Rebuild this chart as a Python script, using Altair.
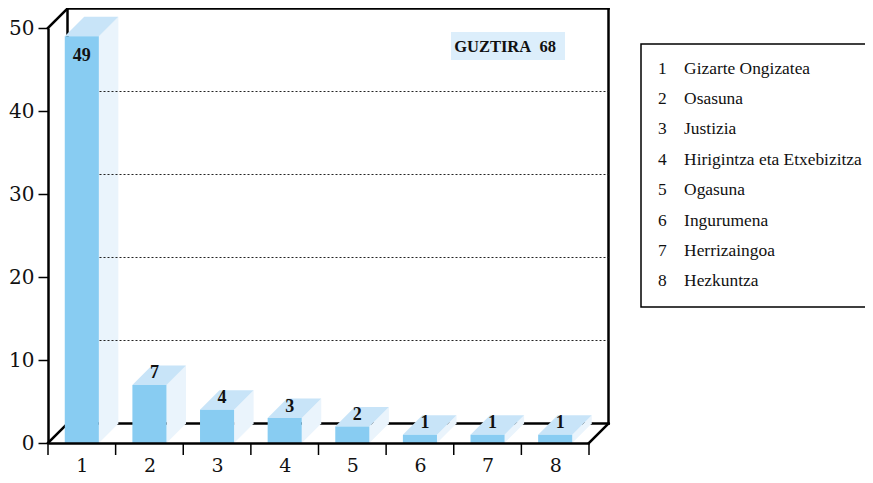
import altair as alt
import pandas as pd

# ---- data -------------------------------------------------------------
categories = [1, 2, 3, 4, 5, 6, 7, 8]
names = ["Gizarte Ongizatea", "Osasuna", "Justizia", "Hirigintza eta Etxebizitza",
         "Ogasuna", "Ingurumena", "Herrizaingoa", "Hezkuntza"]
values = [49, 7, 4, 3, 2, 1, 1, 1]
y_ticks = [0, 10, 20, 30, 40, 50]
grid_levels = [10, 20, 30, 40]
total_word = "GUZTIRA"

# ---- geometry / style ---------------------------------------------------
W, H = 541, 415
X0, X1 = 0.5, 8.5
Y0, Y1 = 0, 50
DEPTH = 19.5                      # pseudo-3D depth in px
dx = DEPTH / (W / (X1 - X0))
dy = DEPTH / (H / (Y1 - Y0))
HALF = 0.252

FRONT = "#88CCF2"
TOP = "#C8E4F8"
SIDE = "#EAF4FC"
SERIF = "Liberation Serif"

legend_lines = [f"{c}\u2003{n}" for c, n in zip(categories, names)]

frame = pd.DataFrame([
    dict(x=X0 + dx, y=Y0 + dy, x2=X0 + dx, y2=Y1 + dy),
    dict(x=X1 + dx, y=Y0 + dy, x2=X1 + dx, y2=Y1 + dy),
    dict(x=X0 + dx, y=Y1 + dy, x2=X1 + dx, y2=Y1 + dy),
    dict(x=X0 + dx, y=Y0 + dy, x2=X1 + dx, y2=Y0 + dy),
    dict(x=X0, y=Y0, x2=X0 + dx, y2=Y0 + dy),
    dict(x=X0, y=Y1, x2=X0 + dx, y2=Y1 + dy),
    dict(x=X1, y=Y0, x2=X1 + dx, y2=Y0 + dy),
])
grid = pd.DataFrame({"y": [g + dy for g in grid_levels], "x": X0 + dx, "x2": X1 + dx})

front_rows, top_rows, side_rows, label_rows = [], [], [], []
for c, v in zip(categories, values):
    L, R = c - HALF, c + HALF
    front_rows.append(dict(L=L, R=R, v=v, base=0))
    top_rows += [dict(key=c, x=L, y=v, y2=v), dict(key=c, x=L + dx, y=v, y2=v + dy),
                 dict(key=c, x=R, y=v, y2=v + dy), dict(key=c, x=R + dx, y=v + dy, y2=v + dy)]
    side_rows += [dict(key=c, x=R, y=0, y2=v), dict(key=c, x=R + dx, y=dy, y2=v + dy)]
    inside = v + dy > Y1
    label_rows.append(dict(x=c if inside else c + 0.074,
                           y=v - dy if inside else v + dy / 2 + 0.2,
                           t=str(v)))
front = pd.DataFrame(front_rows)
top = pd.DataFrame(top_rows)
side = pd.DataFrame(side_rows)
labels = pd.DataFrame(label_rows)
bounds = pd.DataFrame({"b": [c - 0.5 for c in categories] + [categories[-1] + 0.5]})
total = pd.DataFrame({"t": [f"{total_word}\u00a0\u00a0{sum(values)}"]})
one = pd.DataFrame({"k": [0]})

# ---- scales / axes ------------------------------------------------------
xs = alt.Scale(domain=[X0, X1], nice=False, zero=False)
ys = alt.Scale(domain=[Y0, Y1], nice=False, zero=False)
xaxis = alt.Axis(values=categories, ticks=False, domainColor="black", domainWidth=2.5,
                 labelFont="DejaVu Serif", labelFontSize=19, labelColor="#111",
                 labelPadding=13, grid=False, title=None, zindex=1)
yaxis = alt.Axis(values=y_ticks, tickSize=10, tickWidth=1.5, tickColor="black",
                 domainColor="black", domainWidth=2.5, labelFont="DejaVu Serif",
                 labelFontSize=20, labelColor="#111", labelPadding=4, grid=False,
                 title=None, zindex=1)


def X(f):
    return alt.X(f, type="quantitative", scale=xs, axis=xaxis)


def Y(f):
    return alt.Y(f, type="quantitative", scale=ys, axis=yaxis, stack=None)


frame_layer = alt.Chart(frame).mark_rule(color="black", strokeWidth=2.5, strokeCap="square").encode(
    x=X("x"), x2=alt.X2("x2"), y=Y("y"), y2=alt.Y2("y2"))
side_layer = alt.Chart(side).mark_area(color=SIDE).encode(
    x=X("x"), y=Y("y"), y2=alt.Y2("y2"), detail="key:N")
grid_layer = alt.Chart(grid).mark_rule(color="#222", strokeDash=[2, 2], strokeWidth=1).encode(
    x=X("x"), x2=alt.X2("x2"), y=Y("y"))
top_layer = alt.Chart(top).mark_area(color=TOP).encode(
    x=X("x"), y=Y("y"), y2=alt.Y2("y2"), detail="key:N")
front_layer = alt.Chart(front).mark_rect(color=FRONT).encode(
    x=X("L"), x2=alt.X2("R"), y=Y("v"), y2=alt.Y2("base"))
tick_layer = alt.Chart(bounds).mark_rule(color="black", strokeWidth=1.5).encode(
    x=X("b"), y=alt.value(H), y2=alt.value(H + 12))
label_layer = alt.Chart(labels).mark_text(font=SERIF, fontWeight="bold", fontSize=18,
                                          color="#111", baseline="middle", align="center").encode(
    x=X("x"), y=Y("y"), text="t:N")
box_layer = alt.Chart(total).mark_rect(color="#DCEEFB").encode(
    x=alt.value(403), x2=alt.value(517), y=alt.value(4), y2=alt.value(32))
total_layer = alt.Chart(total).mark_text(font=SERIF, fontWeight="bold", fontSize=16.5,
                                         color="#111", align="center", baseline="middle").encode(
    x=alt.value(457), y=alt.value(18.5), text="t:N")

# legend box with numbered list
legend_box = alt.Chart(one).mark_rect(fill="white", stroke="black", strokeWidth=1.5).encode(
    x=alt.value(593), x2=alt.value(950), y=alt.value(16), y2=alt.value(279))
legend_text = alt.Chart(one).mark_text(font=SERIF, fontSize=17.4, color="#111", align="left",
                                       baseline="top", lineHeight=30.4).encode(
    x=alt.value(610), y=alt.value(31.5), text=alt.value(legend_lines))

chart = alt.layer(frame_layer, side_layer, grid_layer, top_layer, front_layer,
                  tick_layer, label_layer, box_layer, total_layer,
                  legend_box, legend_text).properties(
    width=W, height=H,
    padding={"left": 40, "top": 20, "right": 276, "bottom": 32},
    autosize=alt.AutoSizeParams(type="none"),
    background="white",
).configure_view(stroke=None)

chart.save("out.html", embed_options={"renderer": "svg", "actions": False})
